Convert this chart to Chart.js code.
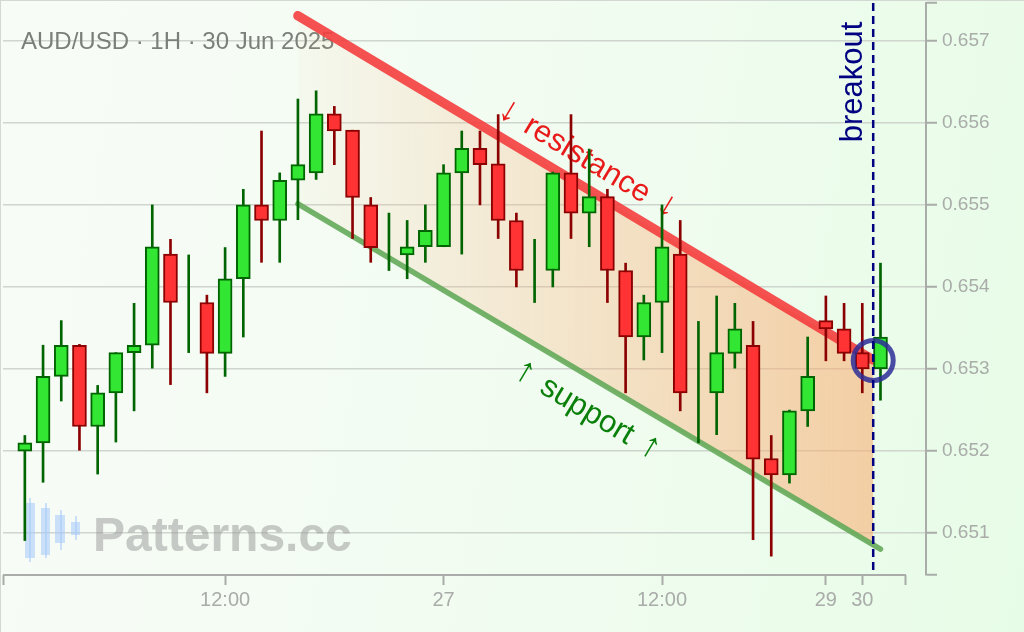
<!DOCTYPE html>
<html><head><meta charset="utf-8">
<script src="https://cdn.jsdelivr.net/npm/chart.js@4.4.1/dist/chart.umd.min.js"></script>
<style>
html,body{margin:0;padding:0;}
body{width:1024px;height:632px;overflow:hidden;background:linear-gradient(100deg,#f8fcf7 0%,#f1fcf0 55%,#e7fce7 100%);}
#wrap{position:relative;width:1024px;height:632px;}
#frame{position:absolute;left:0;top:0;width:1024px;height:632px;box-sizing:border-box;border-top:1px solid #d3d8d3;border-left:1px solid #d3d8d3;pointer-events:none;}
canvas{display:block;position:absolute;left:0;top:0;}
</style></head><body><div id="wrap"><canvas id="c" width="1024" height="632"></canvas><div id="frame"></div></div>
<script>
// ---- data (AUD/USD 1H candles, index 0 = 26 Jun 01:00) ----
const opens  = [0.65200,0.65210,0.65291,0.65329,0.65230,0.65271,0.65320,0.65329,0.65440,0.65384,0.65381,0.65319,0.65410,0.65500,0.65481,0.65530,0.65539,0.65611,0.65591,0.65500,0.65457,0.65439,0.65449,0.65449,0.65539,0.65569,0.65550,0.65481,0.65421,0.65420,0.65539,0.65490,0.65510,0.65420,0.65339,0.65381,0.65440,0.65287,0.65271,0.65319,0.65329,0.65191,0.65171,0.65249,0.65359,0.65349,0.65320,0.65300];
const highs  = [0.65219,0.65329,0.65359,0.65330,0.65280,0.65320,0.65380,0.65500,0.65458,0.65439,0.65390,0.65448,0.65519,0.65590,0.65539,0.65629,0.65639,0.65620,0.65591,0.65509,0.65490,0.65481,0.65500,0.65549,0.65590,0.65590,0.65610,0.65490,0.65458,0.65540,0.65610,0.65568,0.65519,0.65429,0.65390,0.65500,0.65481,0.65358,0.65389,0.65380,0.65358,0.65219,0.65250,0.65339,0.65389,0.65380,0.65380,0.65429];
const lows   = [0.65091,0.65162,0.65261,0.65201,0.65172,0.65211,0.65249,0.65301,0.65281,0.65320,0.65271,0.65291,0.65339,0.65430,0.65430,0.65482,0.65531,0.65549,0.65459,0.65430,0.65420,0.65410,0.65430,0.65449,0.65440,0.65500,0.65459,0.65400,0.65381,0.65400,0.65459,0.65449,0.65381,0.65271,0.65311,0.65320,0.65249,0.65210,0.65220,0.65301,0.65092,0.65072,0.65161,0.65230,0.65310,0.65310,0.65271,0.65262];
const closes = [0.65210,0.65291,0.65329,0.65230,0.65271,0.65320,0.65329,0.65449,0.65381,0.65384,0.65319,0.65410,0.65500,0.65481,0.65530,0.65549,0.65611,0.65590,0.65509,0.65448,0.65457,0.65449,0.65469,0.65539,0.65569,0.65549,0.65481,0.65420,0.65421,0.65539,0.65490,0.65510,0.65420,0.65339,0.65381,0.65449,0.65271,0.65287,0.65320,0.65349,0.65190,0.65171,0.65249,0.65291,0.65349,0.65319,0.65300,0.65339];

const xTickPos    = [11, 23, 35, 44, 46];
const xTickLabels = ['12:00', '27', '12:00', '29', '30'];
const yTickValues = [0.651, 0.652, 0.653, 0.654, 0.655, 0.656, 0.657];

// channel lines (index, price)
const resistanceX = [15, 46.6];
const resistanceY = [0.657305, 0.65311];
const supportX    = [15, 47];
const supportY    = [0.655012, 0.650805];
const channelBottomY = [0.655012, 0.650850];   // support level at channel end
const breakoutX   = 46.6;
const breakoutPointY = 0.653104;

const titleText = 'AUD/USD · 1H · 30 Jun 2025';

// ---- scale settings ----
const yMin = 0.65049, yMax = 0.65746;
const xMin = -1.2, xMax = 49.5, xAxisEnd = 48.4;

const up = opens.map((o, i) => closes[i] >= o);
const GREEN = '#33e633', GREEN_D = '#006400', RED = '#ff3333', RED_D = '#8b0000';

const pts = (xs, ys) => xs.map((x, i) => ({x: x, y: ys[i]}));

const bodies = opens.map((o, i) => ({x: i, y: [o, closes[i]]}));
const wicks  = lows.map((l, i) => ({x: i, y: [l, highs[i]]}));

const decor = {
  id: 'decor',
  beforeDatasetsDraw(chart) {
    const c = chart.ctx, xs = chart.scales.x, ys = chart.scales.y;
    c.save();
    // title
    c.fillStyle = '#7a7f7a';
    c.font = '24px "Liberation Sans"';
    c.textBaseline = 'alphabetic';
    c.textAlign = 'left';
    c.fillText(titleText, 21, 49);
    // watermark logo
    c.fillStyle = 'rgba(165,200,250,0.55)';
    const logo = [[25,10,503,55,29,498,64],[41,9,508,47,45,503,55],[55,10,515,28,60,510,40],[71,9,522,13,75,516,24]];
    logo.forEach(l => { c.fillRect(l[0], l[2], l[1], l[3]); c.fillRect(l[4], l[5], 2, l[6]); });
    c.fillStyle = 'rgba(150,150,150,0.5)';
    c.font = 'bold 48px "Liberation Sans"';
    c.fillText('Patterns.cc', 93, 551);
    // channel labels
    const ang = Math.atan2(ys.getPixelForValue(resistanceY[1]) - ys.getPixelForValue(resistanceY[0]),
                           xs.getPixelForValue(resistanceX[1]) - xs.getPixelForValue(resistanceX[0]));
    const label = (x, y, txt, arrow, off, color) => {
      c.save();
      c.translate(xs.getPixelForValue(x), ys.getPixelForValue(y));
      c.rotate(ang);
      c.fillStyle = color;
      c.textAlign = 'center'; c.textBaseline = 'middle';
      c.font = '31px "Liberation Sans"';
      c.fillText(txt, 0, 0);
      c.font = '36px "Liberation Sans"';
      c.fillText(arrow, -off, -2);
      c.fillText(arrow, off, -2);
      c.restore();
    };
    label(30.88, 0.655547, 'resistance', '↓', 92, '#e81a1a');
    label(30.88, 0.652488, 'support', '↑', 73, '#0a800a');
    // breakout label
    c.save();
    c.translate(xs.getPixelForValue(45.49), ys.getPixelForValue(0.656497));
    c.rotate(-Math.PI / 2);
    c.fillStyle = '#000080';
    c.textAlign = 'center'; c.textBaseline = 'middle';
    c.font = '31px "Liberation Sans"';
    c.fillText('breakout', 0, 0);
    c.restore();
    c.restore();
  },
  afterDraw(chart) {
    const c = chart.ctx, xs = chart.scales.x, a = chart.chartArea;
    c.save();
    // x axis line (ends before the price axis)
    c.strokeStyle = '#a9aca9'; c.lineWidth = 2;
    c.beginPath();
    c.moveTo(xs.getPixelForValue(xMin), a.bottom);
    c.lineTo(xs.getPixelForValue(xAxisEnd), a.bottom);
    c.stroke();
    // x tick labels
    c.fillStyle = '#a9aca9';
    c.font = '20px "Liberation Sans"';
    c.textAlign = 'center'; c.textBaseline = 'middle';
    xTickPos.forEach((p, i) => {
      c.fillText(xTickLabels[i], xs.getPixelForValue(p), a.bottom + 25);
    });
    c.restore();
  }
};

Chart.defaults.font.family = '"Liberation Sans"';

const zeroPad = s => { s.paddingLeft = 0; s.paddingRight = 0; s.paddingTop = 0; s.paddingBottom = 0; };

new Chart(document.getElementById('c'), {
  type: 'line',
  data: {
    datasets: [
      { // channel upper bound (for fill)
        type: 'line', data: pts(resistanceX, resistanceY), borderWidth: 0, pointRadius: 0, fill: false, order: 11,
        borderColor: 'rgba(0,0,0,0)'
      },
      { // channel fill
        type: 'line', data: pts(resistanceX, channelBottomY), borderWidth: 0, pointRadius: 0, fill: '-1', order: 10,
        borderColor: 'rgba(0,0,0,0)',
        backgroundColor: (ctx) => {
          const ch = ctx.chart;
          if (!ch.chartArea) return 'rgba(250,170,110,0.3)';
          const x0 = ch.scales.x.getPixelForValue(resistanceX[0]);
          const x1 = ch.scales.x.getPixelForValue(resistanceX[1]);
          const g = ch.ctx.createLinearGradient(x0, 0, x1, 0);
          g.addColorStop(0, 'rgba(250,170,110,0.04)');
          g.addColorStop(1, 'rgba(250,170,110,0.56)');
          return g;
        }
      },
      { // support line
        type: 'line', data: pts(supportX, supportY), borderColor: 'rgba(100,170,90,0.9)', borderWidth: 5.5,
        pointRadius: 0, fill: false, order: 9, borderCapStyle: 'round'
      },
      { // resistance line
        type: 'line', data: pts(resistanceX, resistanceY), borderColor: 'rgba(244,62,62,0.9)', borderWidth: 9.5,
        pointRadius: 0, fill: false, order: 8, borderCapStyle: 'round'
      },
      { // wicks
        type: 'bar', data: wicks, grouped: false, barThickness: 2, order: 5,
        backgroundColor: up.map(u => u ? GREEN_D : RED_D), borderWidth: 0
      },
      { // bodies
        type: 'bar', data: bodies, grouped: false, barThickness: 14, order: 4,
        backgroundColor: opens.map((o, i) => o === closes[i] ? 'rgba(0,0,0,0)' : (up[i] ? GREEN : RED)),
        borderColor: up.map(u => u ? GREEN_D : RED_D),
        borderWidth: opens.map((o, i) => o === closes[i] ? 0 : 2),
        borderSkipped: false
      },
      { // breakout marker circle
        type: 'scatter', data: [{x: breakoutX, y: breakoutPointY}], pointRadius: 20, pointHoverRadius: 20,
        pointBorderWidth: 5, pointBorderColor: 'rgba(45,45,150,0.85)', pointBackgroundColor: 'rgba(0,0,0,0)', order: 2
      },
      { // breakout dashed line
        type: 'line', data: [{x: breakoutX, y: yMax}, {x: breakoutX, y: yMin}], borderColor: '#000080',
        borderWidth: 2.5, borderDash: [8, 5], pointRadius: 0, fill: false, order: 1, clip: false
      }
    ]
  },
  options: {
    responsive: false, animation: false, devicePixelRatio: 1,
    layout: { autoPadding: false, padding: { left: 3, top: 3, right: 0, bottom: 0 } },
    plugins: { legend: { display: false }, tooltip: { enabled: false } },
    events: [],
    scales: {
      x: {
        type: 'linear', min: xMin, max: xMax, offset: false,
        afterBuildTicks: s => { s.ticks = [xMin, ...xTickPos, xAxisEnd].map(v => ({value: v})); },
        afterFit: s => { s.height = 57; zeroPad(s); },
        ticks: { display: false },
        grid: { drawOnChartArea: false, drawTicks: true, tickLength: 10, tickColor: '#a9aca9', tickWidth: 2, offset: false },
        border: { display: false }
      },
      y: {
        type: 'linear', position: 'right', min: yMin, max: yMax,
        afterBuildTicks: s => { s.ticks = [yMin, ...yTickValues, yMax].map(v => ({value: v})); },
        afterFit: s => { s.width = 98; zeroPad(s); },
        ticks: {
          callback: v => (v === yMin || v === yMax) ? '' : v.toFixed(3),
          color: '#a9aca9', font: { size: 19 }, padding: 5, autoSkip: false
        },
        grid: {
          color: c => (c.tick && (c.tick.value === yMin || c.tick.value === yMax)) ? 'rgba(0,0,0,0)' : 'rgba(195,200,195,0.75)',
          lineWidth: 1.5, tickColor: '#a9aca9', tickLength: 11, tickWidth: 2
        },
        border: { display: true, color: '#a9aca9', width: 2 }
      }
    }
  },
  plugins: [decor]
});
</script>
</body></html>
